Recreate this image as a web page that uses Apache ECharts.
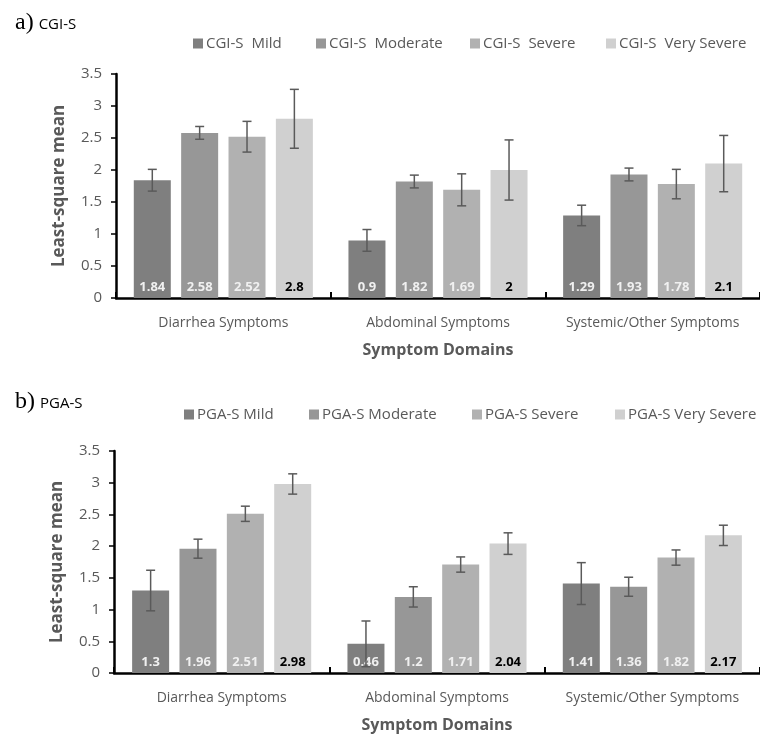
<!DOCTYPE html>
<html>
<head>
<meta charset="utf-8">
<script src="https://cdn.jsdelivr.net/npm/echarts@6/dist/echarts.min.js"></script>
<style>html,body{margin:0;padding:0;background:#fff}#c{width:760px;height:735px}</style>
</head>
<body>
<div id="c"></div>
<script>
// ---- Data ----
var categories = ['Diarrhea Symptoms', 'Abdominal Symptoms', 'Systemic/Other Symptoms'];
var yTicks = [0, 0.5, 1, 1.5, 2, 2.5, 3, 3.5];

var cgiNames = ['CGI-S  Mild', 'CGI-S  Moderate', 'CGI-S  Severe', 'CGI-S  Very Severe'];
var cgiMild = [1.84, 0.9, 1.29];
var cgiModerate = [2.58, 1.82, 1.93];
var cgiSevere = [2.52, 1.69, 1.78];
var cgiVerySevere = [2.8, 2, 2.1];
var cgiMildErr = [0.17, 0.17, 0.16];
var cgiModerateErr = [0.10, 0.10, 0.10];
var cgiSevereErr = [0.24, 0.25, 0.23];
var cgiVerySevereErr = [0.46, 0.47, 0.44];

var pgaNames = ['PGA-S Mild', 'PGA-S Moderate', 'PGA-S Severe', 'PGA-S Very Severe'];
var pgaMild = [1.3, 0.46, 1.41];
var pgaModerate = [1.96, 1.2, 1.36];
var pgaSevere = [2.51, 1.71, 1.82];
var pgaVerySevere = [2.98, 2.04, 2.17];
var pgaMildErr = [0.32, 0.36, 0.33];
var pgaModerateErr = [0.15, 0.16, 0.15];
var pgaSevereErr = [0.12, 0.12, 0.12];
var pgaVerySevereErr = [0.16, 0.17, 0.16];

// ---- Styling ----
var colors = ['#7f7f7f', '#979797', '#b1b1b1', '#d0d0d0'];
var labelColors = ['#f0f0f0', '#f0f0f0', '#f0f0f0', '#000000'];
var FONT = 'Open Sans';
var TXT = '#595959';
var BAR_W = 37;
var GAP_PCT = 0.28;

var chart = echarts.init(document.getElementById('c'));

function barSeries(name, data, idx, axisIdx) {
  return {
    type: 'bar', name: name, data: data,
    xAxisIndex: axisIdx, yAxisIndex: axisIdx,
    barWidth: BAR_W, barGap: (GAP_PCT * 100) + '%',
    itemStyle: { color: colors[idx] },
    label: {
      show: true, position: 'insideBottom', distance: 4,
      color: labelColors[idx], fontFamily: FONT, fontSize: 13, fontWeight: 'bold'
    },
    emphasis: { disabled: true },
    z: 2
  };
}

function errSeries(vals, errs, axisIdx) {
  var data = [];
  for (var s = 0; s < vals.length; s++) {
    for (var c = 0; c < vals[s].length; c++) {
      data.push([c, s, vals[s][c] - errs[s][c], vals[s][c] + errs[s][c]]);
    }
  }
  return {
    type: 'custom', xAxisIndex: axisIdx, yAxisIndex: axisIdx, z: 5,
    data: data, silent: true,
    encode: { x: 0, y: [2, 3] },
    renderItem: function (params, api) {
      var c = api.value(0), s = api.value(1);
      var lo = api.coord([c, api.value(2)]);
      var hi = api.coord([c, api.value(3)]);
      var step = BAR_W * (1 + GAP_PCT);
      var total = 4 * BAR_W + 3 * GAP_PCT * BAR_W;
      var x = lo[0] - total / 2 + BAR_W / 2 + s * step;
      var cap = 4.5;
      var st = { stroke: '#5a5a5a', lineWidth: 1.5 };
      return {
        type: 'group', children: [
          { type: 'line', shape: { x1: x, y1: lo[1], x2: x, y2: hi[1] }, style: st },
          { type: 'line', shape: { x1: x - cap, y1: lo[1], x2: x + cap, y2: lo[1] }, style: st },
          { type: 'line', shape: { x1: x - cap, y1: hi[1], x2: x + cap, y2: hi[1] }, style: st }
        ]
      };
    }
  };
}

function xAxis(gi) {
  return {
    type: 'category', gridIndex: gi, data: categories,
    name: 'Symptom Domains', nameLocation: 'middle', nameGap: 44,
    nameTextStyle: { fontFamily: FONT, fontSize: 16, fontWeight: 'bold', color: TXT },
    axisLine: { lineStyle: { color: '#000', width: 2.5 } },
    axisTick: { show: true, inside: true, length: 6, lineStyle: { color: '#000', width: 2 } },
    axisLabel: { interval: 0, fontFamily: FONT, fontSize: 14, color: TXT, margin: 18 },
    splitLine: { show: false }
  };
}

function yAxis(gi) {
  return {
    type: 'value', gridIndex: gi, min: yTicks[0], max: yTicks[yTicks.length - 1], interval: 0.5,
    name: 'Least-square mean', nameLocation: 'middle', nameGap: 48,
    nameTextStyle: { fontFamily: FONT, fontSize: 17, fontWeight: 'bold', color: TXT },
    axisLine: { show: true, lineStyle: { color: '#000', width: 2.5 } },
    axisTick: { show: true, length: 5, lineStyle: { color: '#000', width: 1.5 } },
    axisLabel: { fontFamily: FONT, fontSize: 15, color: TXT, margin: 14 },
    splitLine: { show: false }
  };
}

function legendItem(name, left, top) {
  return {
    data: [name], left: left, top: top, icon: 'rect', itemWidth: 10, itemHeight: 10, itemGap: 0,
    textStyle: { fontFamily: FONT, fontSize: 15, color: TXT, padding: [0, 0, 0, -2] },
    selectedMode: false
  };
}

var cgiVals = [cgiMild, cgiModerate, cgiSevere, cgiVerySevere];
var cgiErrs = [cgiMildErr, cgiModerateErr, cgiSevereErr, cgiVerySevereErr];
var pgaVals = [pgaMild, pgaModerate, pgaSevere, pgaVerySevere];
var pgaErrs = [pgaMildErr, pgaModerateErr, pgaSevereErr, pgaVerySevereErr];

var series = [];
for (var i = 0; i < 4; i++) series.push(barSeries(cgiNames[i], cgiVals[i], i, 0));
for (var j = 0; j < 4; j++) series.push(barSeries(pgaNames[j], pgaVals[j], j, 1));
series.push(errSeries(cgiVals, cgiErrs, 0));
series.push(errSeries(pgaVals, pgaErrs, 1));

var titleRich = {
  a: { fontFamily: 'Liberation Serif', fontSize: 24, fontWeight: 'normal', color: '#000' },
  b: { fontFamily: FONT, fontSize: 15, fontWeight: 'normal', color: '#000', padding: [3, 0, 0, 0] }
};

chart.setOption({
  animation: false,
  title: [
    { text: '{a|a)} {b|CGI-S}', left: 10, top: 6, textStyle: { fontWeight: 'normal', rich: titleRich } },
    { text: '{a|b)} {b|PGA-S}', left: 10, top: 385, textStyle: { fontWeight: 'normal', rich: titleRich } }
  ],
  legend: [
    legendItem(cgiNames[0], 188, 31),
    legendItem(cgiNames[1], 311, 31),
    legendItem(cgiNames[2], 465, 31),
    legendItem(cgiNames[3], 601, 31),
    legendItem(pgaNames[0], 179, 402),
    legendItem(pgaNames[1], 304, 402),
    legendItem(pgaNames[2], 467, 402),
    legendItem(pgaNames[3], 610, 402)
  ],
  grid: [
    { left: 116, top: 74, width: 651, height: 224 },
    { left: 114, top: 451, width: 653, height: 222 }
  ],
  xAxis: [xAxis(0), xAxis(1)],
  yAxis: [yAxis(0), yAxis(1)],
  series: series
});
</script>
</body>
</html>
